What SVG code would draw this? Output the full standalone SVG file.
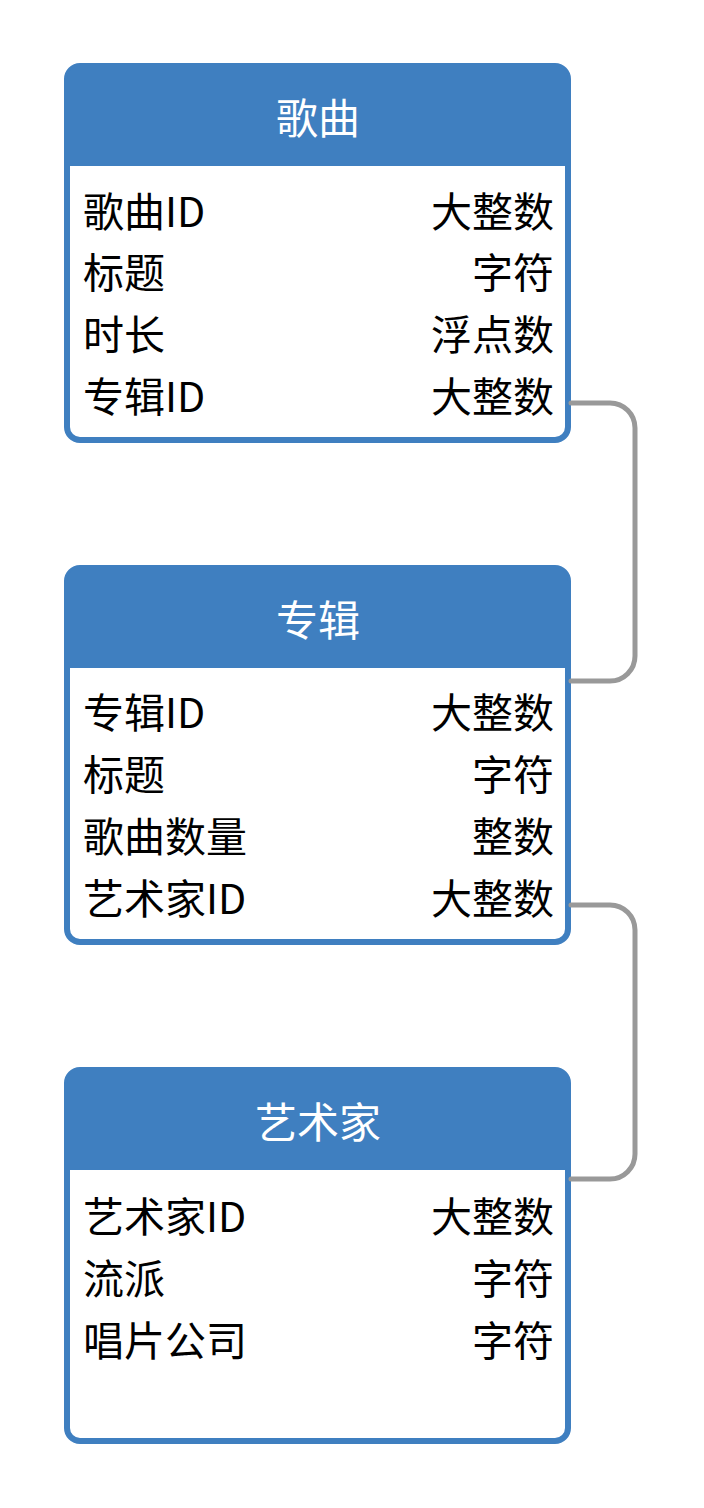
<svg xmlns="http://www.w3.org/2000/svg" width="704" height="1508" viewBox="0 0 704 1508">
<style>
.box{fill:#ffffff;stroke:#3f7fc0;stroke-width:6}
.hdr{fill:#3f7fc0}
.title{font-family:"Noto Sans CJK SC","Noto Sans",sans-serif;font-size:42px;fill:#ffffff;text-anchor:middle;dominant-baseline:central}
.f{font-family:"Noto Sans CJK SC","Noto Sans",sans-serif;font-size:41px;fill:#000000;dominant-baseline:central}
.t{text-anchor:end}
.conn{fill:none;stroke:#999999;stroke-width:5;stroke-linecap:round}
</style>
<rect width="704" height="1508" fill="#ffffff"/>
<g id="song">
<rect class="box" x="67" y="66" width="501" height="374" rx="13"/>
<path class="hdr" d="M67 166 V79 A13 13 0 0 1 80 66 H555 A13 13 0 0 1 568 79 V166 Z"/>
<text class="title" x="318" y="115">歌曲</text>
<text class="f" x="83" y="209">歌曲ID</text><text class="f t" x="554" y="209">大整数</text>
<text class="f" x="83" y="270">标题</text><text class="f t" x="554" y="270">字符</text>
<text class="f" x="83" y="332">时长</text><text class="f t" x="554" y="332">浮点数</text>
<text class="f" x="83" y="394">专辑ID</text><text class="f t" x="554" y="394">大整数</text>
</g>
<g id="album">
<rect class="box" x="67" y="568" width="501" height="374" rx="13"/>
<path class="hdr" d="M67 668 V581 A13 13 0 0 1 80 568 H555 A13 13 0 0 1 568 581 V668 Z"/>
<text class="title" x="318" y="617">专辑</text>
<text class="f" x="83" y="710">专辑ID</text><text class="f t" x="554" y="710">大整数</text>
<text class="f" x="83" y="772">标题</text><text class="f t" x="554" y="772">字符</text>
<text class="f" x="83" y="834">歌曲数量</text><text class="f t" x="554" y="834">整数</text>
<text class="f" x="83" y="896">艺术家ID</text><text class="f t" x="554" y="896">大整数</text>
</g>
<g id="artist">
<rect class="box" x="67" y="1070" width="501" height="371" rx="13"/>
<path class="hdr" d="M67 1170 V1083 A13 13 0 0 1 80 1070 H555 A13 13 0 0 1 568 1083 V1170 Z"/>
<text class="title" x="318" y="1119">艺术家</text>
<text class="f" x="83" y="1214">艺术家ID</text><text class="f t" x="554" y="1214">大整数</text>
<text class="f" x="83" y="1276">流派</text><text class="f t" x="554" y="1276">字符</text>
<text class="f" x="83" y="1338">唱片公司</text><text class="f t" x="554" y="1338">字符</text>
</g>
<g id="connectors">
<path class="conn" d="M571 403 H610 A25 25 0 0 1 635 428 V656 A25 25 0 0 1 610 681 H571"/>
<path class="conn" d="M571 905 H610 A25 25 0 0 1 635 930 V1154 A25 25 0 0 1 610 1179 H571"/>
</g>
</svg>
